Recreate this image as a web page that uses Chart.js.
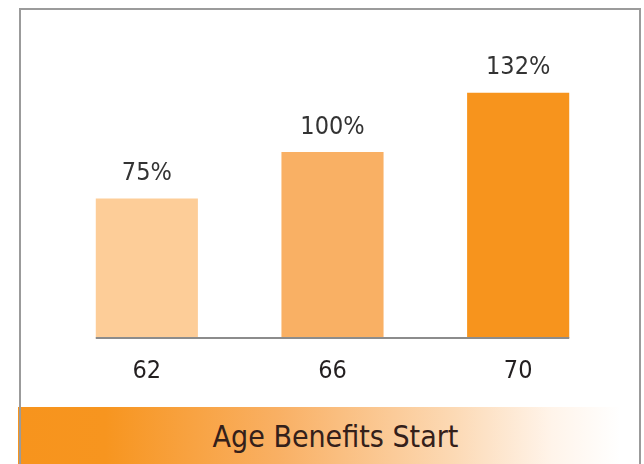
<!DOCTYPE html>
<html>
<head>
<meta charset="utf-8">
<script src="https://cdn.jsdelivr.net/npm/chart.js@4"></script>
<style>
  html, body { margin: 0; padding: 0; background: #fff; }
  body { width: 644px; height: 464px; position: relative; overflow: hidden; }
  .frame {
    position: absolute; left: 19px; top: 8px; width: 622px; height: 470px;
    border: 2px solid #9b9b9b; box-sizing: border-box;
  }
  .band {
    position: absolute; left: 18px; top: 407px; width: 621px; height: 57px;
    background: linear-gradient(to right, #f7941d 0%, #f7951f 14%, #f9b064 42%, #fcd9b4 70%, #fff4ea 86%, #ffffff 97%);
  }
  .band span {
    position: absolute; left: 0; right: 0; top: 15px; text-align: center;
    padding-left: 14px; line-height: 30px;
    font-family: 'DejaVu Sans Condensed', 'DejaVu Sans', sans-serif;
    font-size: 30px; color: #34201a;
  }
  .wrap { position: absolute; left: 0; top: 0; width: 644px; height: 420px; }
</style>
</head>
<body>
<div class="band"><span>Age Benefits Start</span></div>
<div class="frame"></div>
<div class="wrap"><canvas id="chart"></canvas></div>
<script>
// values
const ages = ['62', '66', '70'];
const benefitPct = [75, 100, 132];
const barColors = ['#fdcd98', '#f9b064', '#f7941d'];

const fontFamily = "'DejaVu Sans Condensed', 'DejaVu Sans', sans-serif";

// percent labels above each bar
const valueLabels = {
  id: 'valueLabels',
  afterDatasetsDraw(chart) {
    const ctx = chart.ctx;
    const meta = chart.getDatasetMeta(0);
    ctx.save();
    ctx.font = '25px ' + fontFamily;
    ctx.fillStyle = '#333333';
    ctx.textAlign = 'center';
    ctx.textBaseline = 'middle';
    meta.data.forEach((bar, i) => {
      ctx.fillText(benefitPct[i] + '%', bar.x, bar.y - 25);
    });
    ctx.restore();
  }
};

// grey base line running under the bars only
const baseLine = {
  id: 'baseLine',
  afterDatasetsDraw(chart) {
    const ctx = chart.ctx;
    const bars = chart.getDatasetMeta(0).data;
    const first = bars[0], last = bars[bars.length - 1];
    const y = chart.scales.y.getPixelForValue(0);
    ctx.save();
    ctx.strokeStyle = '#8c8c8c';
    ctx.lineWidth = 2;
    ctx.beginPath();
    ctx.moveTo(first.x - first.width / 2, y);
    ctx.lineTo(last.x + last.width / 2, y);
    ctx.stroke();
    ctx.restore();
  }
};

new Chart(document.getElementById('chart'), {
  type: 'bar',
  data: {
    labels: ages,
    datasets: [{
      data: benefitPct,
      backgroundColor: barColors,
      borderWidth: 0,
      categoryPercentage: 1,
      barPercentage: 0.55
    }]
  },
  options: {
    responsive: true,
    maintainAspectRatio: false,
    animation: false,
    layout: { padding: { left: 54, right: 33, top: 22, bottom: 24 } },
    plugins: {
      legend: { display: false },
      tooltip: { enabled: false }
    },
    scales: {
      x: {
        grid: { display: false },
        border: { display: false },
        ticks: {
          color: '#231f20',
          padding: 10,
          font: { family: fontFamily, size: 25 }
        }
      },
      y: {
        display: false,
        min: 0,
        max: 170
      }
    }
  },
  plugins: [valueLabels, baseLine]
});
</script>
</body>
</html>
